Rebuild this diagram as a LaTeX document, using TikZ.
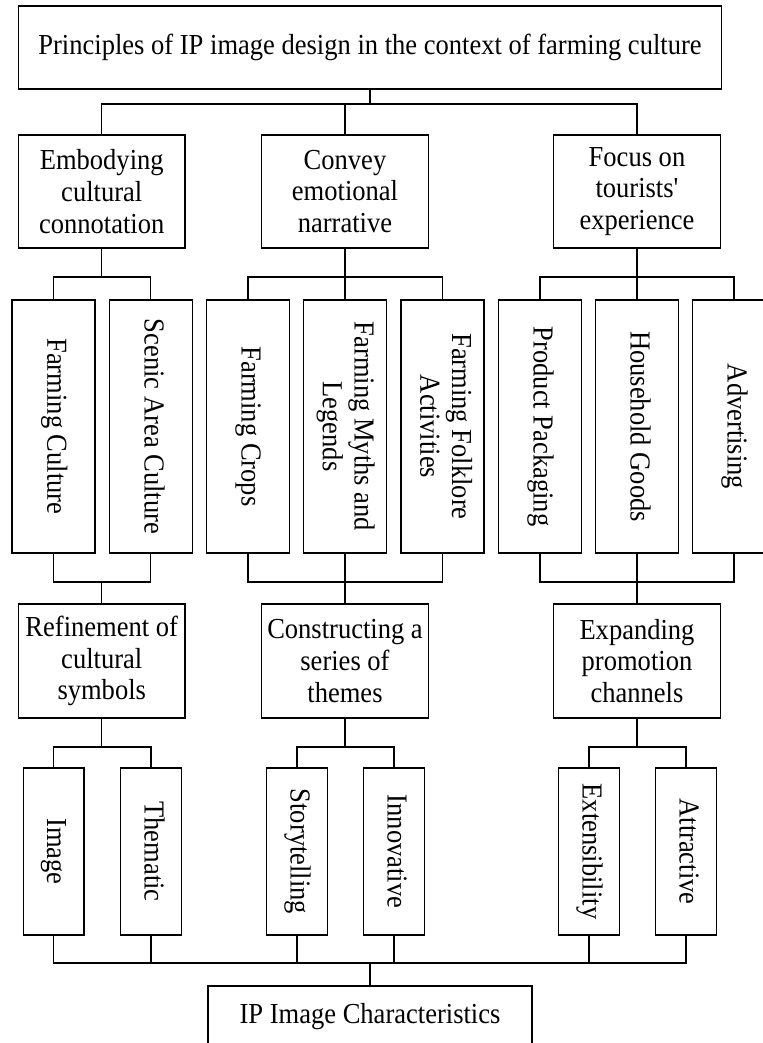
\documentclass[tikz,border=0pt]{standalone}
\usepackage{fontspec}
\setmainfont{Liberation Serif}[FakeStretch=0.915,Ligatures=TeXReset]
\usepackage{graphicx}
\newcommand{\myvert}[1]{\rotatebox{-90}{\begin{tabular}{@{}c@{}}#1\end{tabular}}}
\begin{document}
\begin{tikzpicture}[x=0.75pt,y=-0.75pt,
  box/.style={draw, line width=1.1pt, inner sep=0pt, align=center,
              font=\fontsize{21.75pt}{23.8pt}\selectfont},
  wide/.style={box, minimum width=124.9pt, minimum height=84.75pt},
  tall/.style={box, minimum width=62.25pt, minimum height=189.75pt},
  slim/.style={box, minimum width=45.4pt, minimum height=125.25pt},
  conn/.style={line width=0.8pt},
  stem/.style={line width=1.6pt}]
\useasboundingbox (0,0) rectangle (763,1043);
\clip (0,0) rectangle (763,1043);

% level 1
\node[box, minimum width=526.9pt, minimum height=62.25pt] (top) at (370,47.5)
  {Principles of IP image design in the context of farming culture};

% level 2
\node[wide] (a2) at (101.75,191.5) {Embodying\\cultural\\connotation};
\node[wide] (b2) at (345,191.5) {Convey\\emotional\\narrative};
\node[wide] (c2) at (637,191.5) {Focus on\\tourists'\\experience};

% level 3
\node[tall] (fc) at (53.6,426.5) {\myvert{Farming Culture}};
\node[tall] (sc) at (150.9,426.5) {\myvert{Scenic Area Culture}};
\node[tall] (cr) at (248,426.5) {\myvert{Farming Crops}};
\node[tall] (mm) at (345,426.5) {\myvert{Farming Myths and\\Legends}};
\node[tall] (fa) at (442.5,426.5) {\myvert{Farming Folklore\\Activities}};
\node[tall] (pp) at (540,426.5) {\myvert{Product Packaging}};
\node[tall] (hg) at (637,426.5) {\myvert{Household Goods}};
\node[tall] (ad) at (734,426.5) {\myvert{Advertising}};

% level 4
\node[wide, minimum height=85.5pt] (a4) at (101.75,661) {Refinement of\\cultural\\symbols};
\node[wide, minimum height=85.5pt] (b4) at (345,661) {Constructing a\\series of\\themes};
\node[wide, minimum height=85.5pt] (c4) at (637,661) {Expanding\\promotion\\channels};

% level 5
\node[slim] (im) at (53.5,851.5) {\myvert{Image}};
\node[slim] (th) at (151,851.5) {\myvert{Thematic}};
\node[slim] (st) at (297,851.5) {\myvert{Storytelling}};
\node[slim] (in) at (394,851.5) {\myvert{Innovative}};
\node[slim] (ex) at (589,851.5) {\myvert{Extensibility}};
\node[slim] (at) at (686,851.5) {\myvert{Attractive}};

% bottom
\node[box, minimum width=243pt, minimum height=45.75pt] (ip) at (370,1016.5)
  {IP Image Characteristics};

% junctions
\coordinate (j1) at (370,104);
\coordinate (j2a) at (101.75,277);
\coordinate (j2b) at (345,277);
\coordinate (j2c) at (637,277);
\coordinate (j3a) at (101.75,582);
\coordinate (j3b) at (345,582);
\coordinate (j3c) at (637,582);
\coordinate (j4a) at (101.75,747);
\coordinate (j4b) at (345,747);
\coordinate (j4c) at (637,747);
\coordinate (j5) at (370,963);

% level 1 -> 2
\draw[stem] (top.south) -- (j1);
\draw[conn] (a2.north) |- (j1) -| (c2.north);
\draw[conn] (b2.north) -- (b2.north |- j1);

% level 2 -> 3
\draw[conn] (a2.south) -- (j2a);
\draw[conn] (fc.north) |- (j2a) -| (sc.north);
\draw[conn] (b2.south) -- (mm.north);
\draw[conn] (cr.north) |- (j2b) -| (fa.north);
\draw[conn] (c2.south) -- (hg.north);
\draw[conn] (pp.north) |- (j2c) -| (ad.north);

% level 3 -> 4
\draw[conn] (fc.south) |- (j3a) -| (sc.south);
\draw[conn] (j3a) -- (a4.north);
\draw[conn] (cr.south) |- (j3b) -| (fa.south);
\draw[conn] (mm.south) -- (b4.north);
\draw[conn] (pp.south) |- (j3c) -| (ad.south);
\draw[conn] (hg.south) -- (c4.north);

% level 4 -> 5
\draw[conn] (a4.south) -- (j4a);
\draw[conn] (im.north) |- (j4a) -| (th.north);
\draw[conn] (b4.south) -- (j4b);
\draw[conn] (st.north) |- (j4b) -| (in.north);
\draw[conn] (c4.south) -- (j4c);
\draw[conn] (ex.north) |- (j4c) -| (at.north);

% level 5 -> bottom
\draw[conn] (im.south) |- (j5) -| (at.south);
\draw[conn] (th.south) -- (th.south |- j5);
\draw[conn] (st.south) -- (st.south |- j5);
\draw[conn] (in.south) -- (in.south |- j5);
\draw[conn] (ex.south) -- (ex.south |- j5);
\draw[stem] (j5) -- (ip.north);
\end{tikzpicture}
\end{document}
